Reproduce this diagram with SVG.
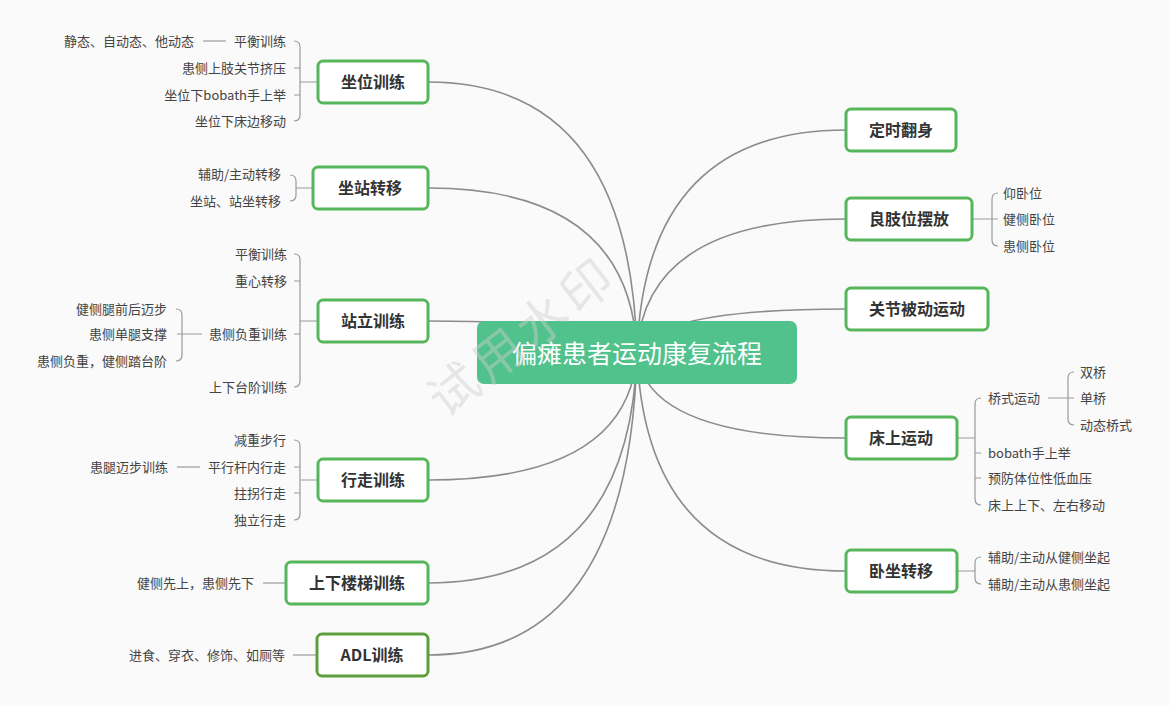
<svg xmlns="http://www.w3.org/2000/svg" width="1170" height="706" viewBox="0 0 1170 706">
<defs>
<style>
.bg{fill:#fafafa}
.main{fill:none;stroke:#8c8c8c;stroke-width:1.6}
.br{fill:none;stroke:#9a9a9a;stroke-width:1.2}
.node rect{fill:#ffffff;stroke:#56b65a;stroke-width:3}
.node text{font-family:"Noto Sans CJK SC","Noto Sans",sans-serif;font-size:16px;font-weight:bold;fill:#333333;text-anchor:middle;dominant-baseline:central}
.lbl{font-family:"Noto Sans CJK SC","Noto Sans",sans-serif;font-size:13px;fill:#444444;dominant-baseline:central}
.l{text-anchor:end}
.r{text-anchor:start}
</style>
</defs>
<rect class="bg" x="0" y="0" width="1170" height="706"/>

<g id="connectors">
<path class="main" d="M637 352 Q630 82 428 82"/>
<path class="main" d="M637 352 Q630 188 428 188"/>
<path class="main" d="M637 352 Q630 321 428 321"/>
<path class="main" d="M637 352 Q630 480 428 480"/>
<path class="main" d="M637 352 Q630 583 428 583"/>
<path class="main" d="M637 352 Q630 655 428 655"/>
<path class="main" d="M637 352 Q645 130 846 130"/>
<path class="main" d="M637 352 Q645 219 846 219"/>
<path class="main" d="M637 352 Q655 309 846 309"/>
<path class="main" d="M637 352 Q645 438 846 438"/>
<path class="main" d="M637 352 Q645 571 846 571"/>

<path class="br" d="M318 82 L300 82 M294 41 Q300 41 300 47 L300 115 Q300 121 294 121 M300 68 L294 68 M300 95 L294 95"/>
<path class="br" d="M203 41 L226 41"/>
<path class="br" d="M313 188 L296 188 M290 175 Q296 175 296 181 L296 195 Q296 201 290 201"/>
<path class="br" d="M318 321 L300 321 M294 254 Q300 254 300 260 L300 381 Q300 387 294 387 M300 281 L294 281 M300 334 L294 334"/>
<path class="br" d="M202 334 L182 334 M176 309 Q182 309 182 315 L182 355 Q182 361 176 361 M182 334 L177 334"/>
<path class="br" d="M318 480 L300 480 M294 440 Q300 440 300 446 L300 514 Q300 520 294 520 M300 467 L294 467 M300 493 L294 493"/>
<path class="br" d="M177 467 L200 467"/>
<path class="br" d="M263 583 L286 583"/>
<path class="br" d="M293 655 L317 655"/>
<path class="br" d="M972 219 L992 219 M998 193 Q992 193 992 199 L992 240 Q992 246 998 246 M992 219 L998 219"/>
<path class="br" d="M957 438 L975 438 M981 398 Q975 398 975 404 L975 499 Q975 505 981 505 M975 453 L981 453 M975 478 L981 478"/>
<path class="br" d="M1048 398 L1068 398 M1074 372 Q1068 372 1068 378 L1068 419 Q1068 425 1074 425 M1068 398 L1074 398"/>
<path class="br" d="M957 571 L975 571 M981 557 Q975 557 975 563 L975 578 Q975 584 981 584"/>
</g>

<g id="center">
<rect x="477" y="321" width="320" height="63" rx="7" fill="#51c28b"/>
<text x="637" y="352" font-family="'Noto Sans CJK SC','Noto Sans',sans-serif" font-size="25" fill="#ffffff" text-anchor="middle" dominant-baseline="central">偏瘫患者运动康复流程</text>
</g>

<g id="n-zuowei" class="node">
<rect x="318" y="61" width="110" height="42" rx="5"/>
<text x="373" y="81">坐位训练</text>
</g>
<g id="n-zuowei-kids">
<text class="lbl l" x="286" y="40">平衡训练</text>
<text class="lbl l" x="194" y="40">静态、自动态、他动态</text>
<text class="lbl l" x="286" y="67">患侧上肢关节挤压</text>
<text class="lbl l" x="286" y="94">坐位下bobath手上举</text>
<text class="lbl l" x="286" y="120">坐位下床边移动</text>
</g>

<g id="n-zuozhan" class="node">
<rect x="313" y="167" width="115" height="42" rx="5"/>
<text x="370" y="187">坐站转移</text>
</g>
<g id="n-zuozhan-kids">
<text class="lbl l" x="281" y="173">辅助/主动转移</text>
<text class="lbl l" x="281" y="200">坐站、站坐转移</text>
</g>

<g id="n-zhanli" class="node">
<rect x="318" y="300" width="110" height="42" rx="5"/>
<text x="373" y="320">站立训练</text>
</g>
<g id="n-zhanli-kids">
<text class="lbl l" x="287" y="253">平衡训练</text>
<text class="lbl l" x="287" y="280">重心转移</text>
<text class="lbl l" x="287" y="333">患侧负重训练</text>
<text class="lbl l" x="287" y="386">上下台阶训练</text>
<text class="lbl l" x="167" y="308">健侧腿前后迈步</text>
<text class="lbl l" x="167" y="333">患侧单腿支撑</text>
<text class="lbl l" x="167" y="360">患侧负重，健侧踏台阶</text>
</g>

<g id="n-xingzou" class="node">
<rect x="318" y="459" width="110" height="42" rx="5"/>
<text x="373" y="479">行走训练</text>
</g>
<g id="n-xingzou-kids">
<text class="lbl l" x="286" y="439">减重步行</text>
<text class="lbl l" x="286" y="466">平行杆内行走</text>
<text class="lbl l" x="168" y="466">患腿迈步训练</text>
<text class="lbl l" x="286" y="492">拄拐行走</text>
<text class="lbl l" x="286" y="519">独立行走</text>
</g>

<g id="n-louti" class="node">
<rect x="286" y="562" width="142" height="42" rx="5"/>
<text x="357" y="582">上下楼梯训练</text>
</g>
<text class="lbl l" x="254" y="582">健侧先上，患侧先下</text>

<g id="n-adl" class="node">
<rect x="317" y="634" width="111" height="42" rx="5" style="stroke:#5e9e3c"/>
<text x="372" y="654">ADL训练</text>
</g>
<text class="lbl l" x="285" y="654">进食、穿衣、修饰、如厕等</text>

<g id="n-fanshen" class="node">
<rect x="846" y="109" width="110" height="42" rx="5"/>
<text x="901" y="129">定时翻身</text>
</g>

<g id="n-liangzhi" class="node">
<rect x="846" y="198" width="126" height="42" rx="5"/>
<text x="909" y="218">良肢位摆放</text>
</g>
<g id="n-liangzhi-kids">
<text class="lbl r" x="1003" y="192">仰卧位</text>
<text class="lbl r" x="1003" y="218">健侧卧位</text>
<text class="lbl r" x="1003" y="245">患侧卧位</text>
</g>

<g id="n-guanjie" class="node">
<rect x="846" y="288" width="142" height="42" rx="5"/>
<text x="917" y="308">关节被动运动</text>
</g>

<g id="n-chuang" class="node">
<rect x="846" y="417" width="111" height="42" rx="5"/>
<text x="901" y="437">床上运动</text>
</g>
<g id="n-chuang-kids">
<text class="lbl r" x="988" y="397">桥式运动</text>
<text class="lbl r" x="1080" y="371">双桥</text>
<text class="lbl r" x="1080" y="397">单桥</text>
<text class="lbl r" x="1080" y="424">动态桥式</text>
<text class="lbl r" x="988" y="452">bobath手上举</text>
<text class="lbl r" x="988" y="477">预防体位性低血压</text>
<text class="lbl r" x="988" y="504">床上上下、左右移动</text>
</g>

<g id="n-wozuo" class="node">
<rect x="846" y="550" width="111" height="42" rx="5"/>
<text x="901" y="570">卧坐转移</text>
</g>
<g id="n-wozuo-kids">
<text class="lbl r" x="988" y="556">辅助/主动从健侧坐起</text>
<text class="lbl r" x="988" y="583">辅助/主动从患侧坐起</text>
</g>

<text x="520" y="333" transform="rotate(-38 520 333)" font-family="'Noto Sans CJK SC',sans-serif" font-size="50" letter-spacing="6" fill="#cfcfcf" fill-opacity="0.45" text-anchor="middle" dominant-baseline="central">试用水印</text>
</svg>
